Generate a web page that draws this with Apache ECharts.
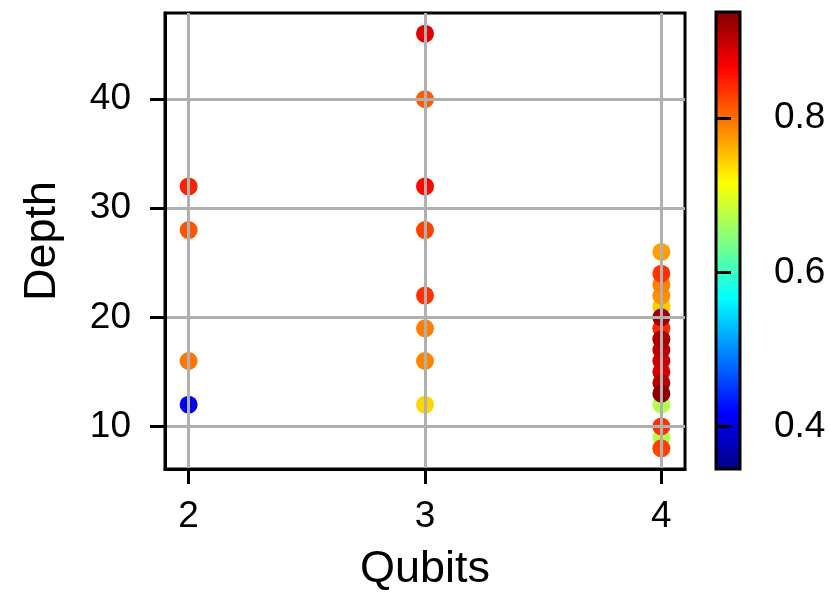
<!DOCTYPE html>
<html>
<head>
<meta charset="utf-8">
<script src="https://cdn.jsdelivr.net/npm/echarts@6/dist/echarts.min.js"></script>
<style>
  html, body { margin: 0; padding: 0; background: #fff; }
  #chart { width: 830px; height: 602px; }
</style>
</head>
<body>
<div id="chart"></div>
<script>
// one point per circuit: qubit count, circuit depth, colour value
const qubits = [
    2, 2, 2, 2,
    3, 3, 3, 3, 3, 3, 3, 3,
    4, 4, 4, 4, 4, 4, 4, 4, 4, 4, 4, 4, 4, 4, 4, 4, 4
];
const depths = [
    32, 28, 16, 12,
    46, 40, 32, 28, 22, 19, 16, 12,
    21, 9, 12, 19, 22, 23, 24, 26, 15, 16, 17, 14, 18, 20, 13, 10, 8
];
const scores = [
    0.845, 0.815, 0.795, 0.41,
    0.88, 0.81, 0.86, 0.825, 0.835, 0.79, 0.785, 0.74,
    0.745, 0.67, 0.67, 0.84, 0.78, 0.79, 0.835, 0.77, 0.885, 0.89, 0.9, 0.905, 0.915, 0.92, 0.93, 0.835, 0.825
];

const xTicks = [2, 3, 4];
const yTicks = [10, 20, 30, 40];
const cbTicks = [0.4, 0.6, 0.8];
const cbRange = [0.345, 0.9375];

const FONT = 'Liberation Sans, Arial, sans-serif';

// matplotlib-ish jet
const clamp = (v) => Math.max(0, Math.min(1, v));
const jet = (t) => {
    const r = clamp(1.5 - Math.abs(4 * t - 3));
    const g = clamp(1.5 - Math.abs(4 * t - 2));
    const b = clamp(1.5 - Math.abs(4 * t - 1));
    return 'rgb(' + Math.round(r * 255) + ',' + Math.round(g * 255) + ',' + Math.round(b * 255) + ')';
};
const jetSamples = [];
for (let i = 0; i <= 64; i++) jetSamples.push(jet(i / 64));

const points = qubits.map((q, i) => [q, depths[i], scores[i]]);

const tickStyle = { color: '#000', width: 3 };
const gridLine = { color: '#b0b0b0', width: 3 };
const labelStyle = { fontSize: 37, color: '#000', fontFamily: FONT };
const nameStyle = { fontSize: 45, color: '#000', fontFamily: FONT };

const chart = echarts.init(document.getElementById('chart'), null, { renderer: 'canvas' });

chart.setOption({
    animation: false,
    backgroundColor: '#fff',
    grid: [
        { left: 165, top: 13, width: 520, height: 456, show: true, borderColor: '#000', borderWidth: 3 },
        { left: 716, top: 12, width: 24, height: 457 }
    ],
    xAxis: [
        {
            gridIndex: 0, type: 'value', min: 1.9, max: 4.1, z: 3,
            axisLine: { show: true, onZero: false, lineStyle: tickStyle },
            axisTick: { show: true, length: 15, lineStyle: tickStyle, customValues: xTicks },
            axisLabel: Object.assign({ margin: 29, customValues: xTicks }, labelStyle),
            splitLine: { show: true, lineStyle: gridLine },
            name: 'Qubits', nameLocation: 'middle', nameGap: 78,
            nameTextStyle: nameStyle
        },
        {
            gridIndex: 1, type: 'value', min: 0, max: 1, show: false
        }
    ],
    yAxis: [
        {
            gridIndex: 0, type: 'value', min: 6.1, max: 47.9, z: 3,
            axisLine: { show: true, onZero: false, lineStyle: tickStyle },
            axisTick: { show: true, length: 15, lineStyle: tickStyle, customValues: yTicks },
            axisLabel: Object.assign({ margin: 34, customValues: yTicks }, labelStyle),
            splitLine: { show: true, lineStyle: gridLine },
            name: 'Depth', nameLocation: 'middle', nameGap: 100,
            nameTextStyle: nameStyle
        },
        {
            gridIndex: 1, type: 'value', position: 'right', min: cbRange[0], max: cbRange[1], z: 3,
            axisLine: { show: false },
            axisTick: { show: true, length: 15, lineStyle: tickStyle, customValues: cbTicks },
            axisLabel: Object.assign({
                margin: 34, customValues: cbTicks,
                formatter: (v) => v.toFixed(1)
            }, labelStyle),
            splitLine: { show: false }
        }
    ],
    visualMap: {
        show: false,
        type: 'continuous',
        seriesIndex: 0,
        dimension: 2,
        min: cbRange[0],
        max: cbRange[1],
        inRange: { color: jetSamples }
    },
    series: [
        {
            type: 'scatter',
            xAxisIndex: 0, yAxisIndex: 0,
            symbolSize: 18,
            z: 2,
            itemStyle: { opacity: 1 },
            data: points
        },
        {
            // colorbar
            type: 'custom',
            xAxisIndex: 1, yAxisIndex: 1,
            silent: true,
            data: [[0, cbRange[0], 1, cbRange[1]]],
            renderItem: (params, api) => {
                const p0 = api.coord([api.value(0), api.value(3)]);
                const p1 = api.coord([api.value(2), api.value(1)]);
                const stops = jetSamples.map((c, i) => ({ offset: i / (jetSamples.length - 1), color: c }));
                return {
                    type: 'rect',
                    shape: { x: p0[0], y: p0[1], width: p1[0] - p0[0], height: p1[1] - p0[1] },
                    style: {
                        fill: new echarts.graphic.LinearGradient(0, 1, 0, 0, stops),
                        stroke: '#000',
                        lineWidth: 3
                    }
                };
            }
        }
    ]
});
</script>
</body>
</html>
